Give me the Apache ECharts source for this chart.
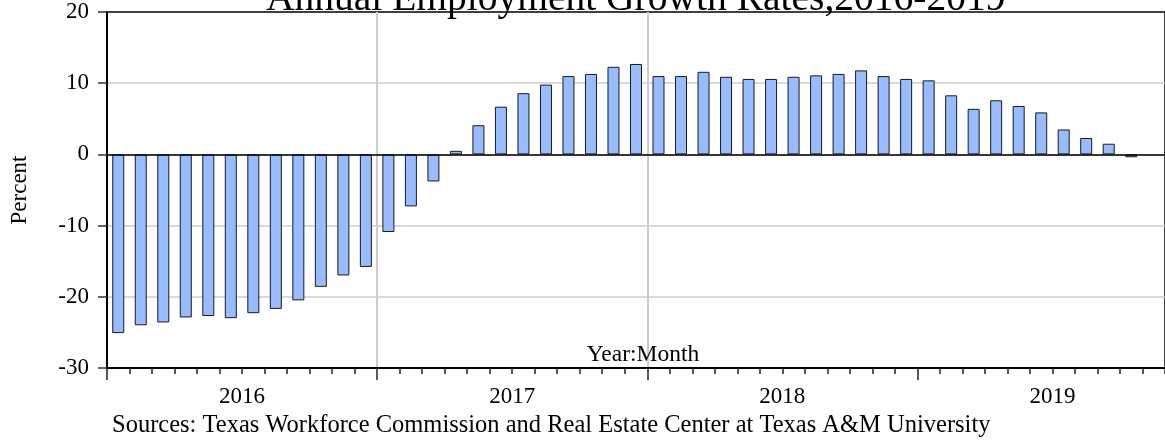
<!DOCTYPE html>
<html>
<head>
<meta charset="utf-8" />
<script src="https://cdn.jsdelivr.net/npm/echarts@6/dist/echarts.min.js"></script>
<style>
  html, body { margin: 0; padding: 0; background: #fff; }
  #chart { width: 1165px; height: 444px; }
</style>
</head>
<body>
<div id="chart"></div>
<script>
// ~~ Data (percent, year-over-year)

const years = ['2016', '2017', '2018', '2019']
const v2016 = [-25.1, -24.0, -23.6, -22.9, -22.7, -23.0, -22.3, -21.7, -20.5, -18.6, -17.0, -15.8]
const v2017 = [-10.9, -7.3, -3.8, 0.5, 4.1, 6.7, 8.6, 9.8, 11.0, 11.3, 12.3, 12.7]
const v2018 = [11.0, 11.0, 11.6, 10.9, 10.6, 10.6, 10.9, 11.1, 11.3, 11.8, 11.0, 10.6]
const v2019 = [10.4, 8.3, 6.4, 7.6, 6.8, 5.9, 3.5, 2.3, 1.5, -0.4, null]
const yTicks = [-30, -20, -10, 0, 10, 20]

const FONT = '"Liberation Serif", "Times New Roman", serif'

const values = [].concat(v2016, v2017, v2018, v2019)
const months = []
years.forEach((y) => {
  for (let m = 1; m <= 12; m++) {
    if (months.length < values.length) months.push(y + ':' + (m < 10 ? '0' + m : m))
  }
})

const option = {
  animation: false,
  textStyle: { fontFamily: FONT, color: '#000' },
  title: [
    {
      text: 'Annual Employment Growth Rates,2016-2019',
      left: 261,
      top: -25,
      textStyle: { fontFamily: FONT, fontSize: 39.5, fontWeight: 'normal', color: '#000' },
    },
    {
      text: 'Sources: Texas Workforce Commission and Real Estate Center at Texas A&M University',
      left: 107,
      top: 408,
      textStyle: { fontFamily: FONT, fontSize: 24.5, fontWeight: 'normal', color: '#000' },
    },
  ],
  grid: {
    left: 104,
    top: 12,
    right: -8,
    bottom: 76,
    show: true,
    borderColor: '#000',
    borderWidth: 1.5,
    backgroundColor: 'transparent',
  },
  xAxis: [
    {
      type: 'category',
      data: months,
      position: 'bottom',
      boundaryGap: true,
      axisLine: { onZero: false, lineStyle: { color: '#000', width: 2 } },
      axisTick: { show: true, interval: 0, length: 6, lineStyle: { color: '#222', width: 1.5 } },
      axisLabel: { show: false },
      splitLine: { show: false },
    },
    {
      // years: long ticks at year boundaries, label mid-year
      type: 'value',
      min: 0,
      max: months.length,
      interval: 12,
      position: 'bottom',
      offset: 0,
      name: 'Year:Month',
      nameLocation: 'middle',
      nameGap: -25,
      nameMoveOverlap: false,
      nameTextStyle: { fontFamily: FONT, fontSize: 23.5, color: '#000', padding: [0, 0, 0, 14] },
      axisLine: { show: false, onZero: false },
      axisTick: { show: true, customValues: [0, 12, 24, 36], length: 12, lineStyle: { color: '#222', width: 1.5 } },
      axisLabel: {
        customValues: [6, 18, 30, 42],
        margin: 17,
        fontFamily: FONT,
        fontSize: 23,
        color: '#000',
        formatter: (v) => years[Math.round((v - 6) / 12)] || '',
      },
      splitLine: { show: true, showMinLine: false, showMaxLine: false, lineStyle: { color: '#cccccc', width: 2 } },
    },
  ],
  yAxis: {
    type: 'value',
    min: yTicks[0],
    max: yTicks[yTicks.length - 1],
    interval: 10,
    name: 'Percent',
    nameLocation: 'middle',
    nameGap: 76,
    nameTextStyle: { fontFamily: FONT, fontSize: 23, color: '#000' },
    axisLine: { show: true, lineStyle: { color: '#000', width: 2 } },
    axisTick: { show: true, length: 9, lineStyle: { color: '#333', width: 1.5 } },
    axisLabel: { margin: 18, fontFamily: FONT, fontSize: 23, color: '#000' },
    splitLine: { show: true, showMinLine: false, showMaxLine: false, lineStyle: { color: '#cccccc', width: 1.5 } },
  },
  series: [
    {
      type: 'bar',
      xAxisIndex: 0,
      data: values,
      barWidth: 12,
      itemStyle: { color: '#99bbff', borderColor: '#1a1a1a', borderWidth: 1 },
      markLine: {
        silent: true,
        symbol: 'none',
        label: { show: false },
        lineStyle: { color: '#000', width: 1.5, type: 'solid' },
        data: [{ yAxis: 0 }],
      },
    },
  ],
}

const c = echarts.init(document.getElementById('chart'))
c.setOption(option)
</script>
</body>
</html>
